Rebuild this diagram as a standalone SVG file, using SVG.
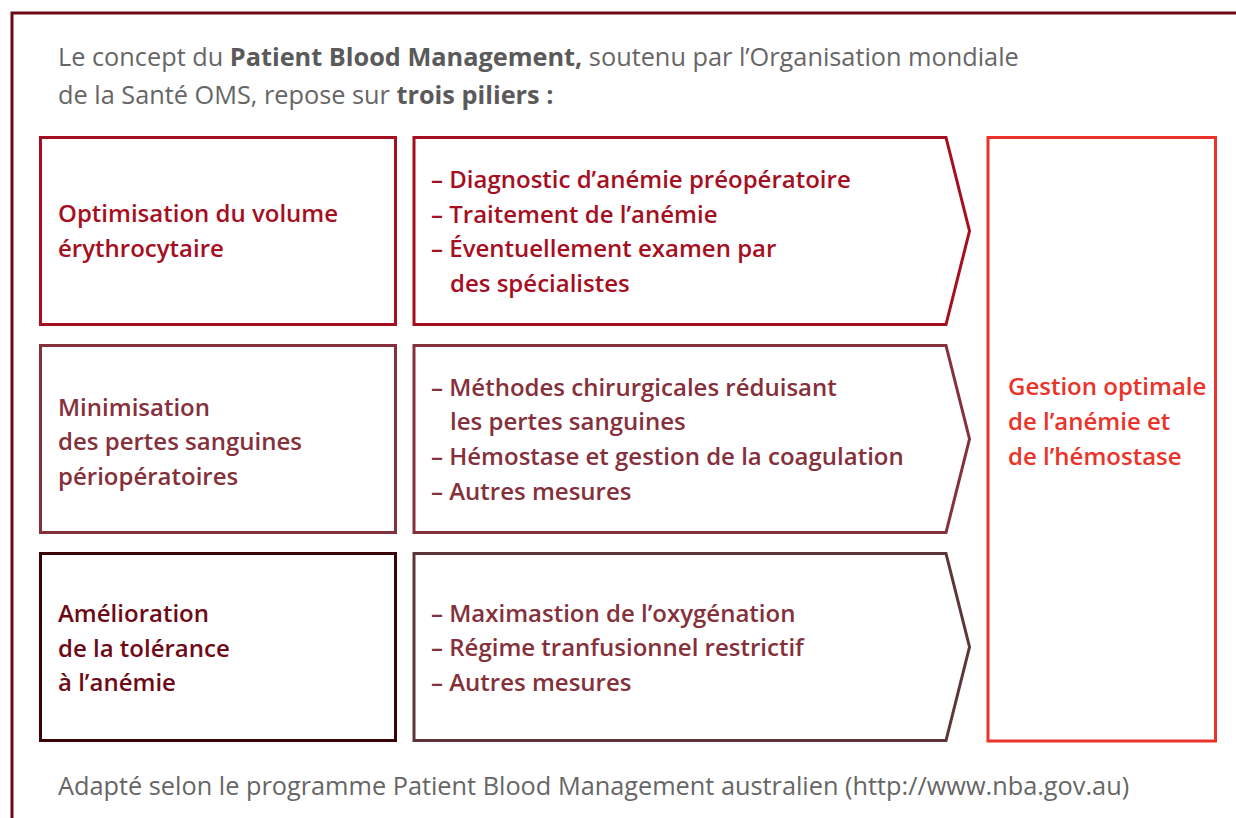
<svg xmlns="http://www.w3.org/2000/svg" width="1236" height="818" viewBox="0 0 1236 818">
<style>
text{font-family:"Open Sans","Noto Sans","DejaVu Sans",sans-serif;font-size:24px}
.hd{fill:#666666;font-weight:400;font-size:25.3px}
.b{font-weight:700;fill:#5a5a5a}
.lb{font-weight:600}
.box{fill:#ffffff;stroke-width:3}
.r1{stroke:#a50f1f}
.t1{fill:#a50f1f}
.r2{stroke:#85313b}
.t2{fill:#85313b}
.r3l{stroke:#3a0308}
.t3l{fill:#6e0a16}
.r3a{stroke:#5e3538}
.t3a{fill:#85313b}
.rr{stroke:#ea3329}
.tr{fill:#ea3329}
</style>
<rect x="0" y="0" width="1236" height="818" fill="#ffffff"/>
<path d="M12,818 V13 H1236" fill="none" stroke="#6b0a12" stroke-width="3"/>
<g id="header">
<text class="hd" x="58" y="66">Le concept du <tspan class="b">Patient Blood Management,</tspan> soutenu par l’Organisation mondiale</text>
<text class="hd" x="58" y="104">de la Santé OMS, repose sur <tspan class="b">trois piliers :</tspan></text>
</g>
<g id="connectors"></g>
<g id="pillar1">
<rect class="box r1" x="40.5" y="137.5" width="355" height="187"/>
<text class="lb t1" x="58" y="222">Optimisation du volume</text>
<text class="lb t1" x="58" y="257">érythrocytaire</text>
</g>
<g id="measures1">
<polygon class="box r1" points="414,137.5 946,137.5 969.5,231 946,324.5 414,324.5"/>
<text class="lb t1" x="431" y="188">– Diagnostic d’anémie préopératoire</text>
<text class="lb t1" x="431" y="222.5">– Traitement de l’anémie</text>
<text class="lb t1" x="431" y="257">– Éventuellement examen par</text>
<text class="lb t1" x="450" y="291.5">des spécialistes</text>
</g>
<g id="pillar2">
<rect class="box r2" x="40.5" y="345.5" width="355" height="187"/>
<text class="lb t2" x="58" y="415.5">Minimisation</text>
<text class="lb t2" x="58" y="450">des pertes sanguines</text>
<text class="lb t2" x="58" y="484.5">périopératoires</text>
</g>
<g id="measures2">
<polygon class="box r2" points="414,345.5 946,345.5 969.5,439 946,532.5 414,532.5"/>
<text class="lb t2" x="431" y="395.5">– Méthodes chirurgicales réduisant</text>
<text class="lb t2" x="450" y="430">les pertes sanguines</text>
<text class="lb t2" x="431" y="465">– Hémostase et gestion de la coagulation</text>
<text class="lb t2" x="431" y="499.5">– Autres mesures</text>
</g>
<g id="pillar3">
<rect class="box r3l" x="40.5" y="553.5" width="355" height="187"/>
<text class="lb t3l" x="58" y="622">Amélioration</text>
<text class="lb t3l" x="58" y="656.5">de la tolérance</text>
<text class="lb t3l" x="58" y="691">à l’anémie</text>
</g>
<g id="measures3">
<polygon class="box r3a" points="414,553.5 946,553.5 969.5,647 946,740.5 414,740.5"/>
<text class="lb t3a" x="431" y="622">– Maximastion de l’oxygénation</text>
<text class="lb t3a" x="431" y="656">– Régime tranfusionnel restrictif</text>
<text class="lb t3a" x="431" y="690.5">– Autres mesures</text>
</g>
<g id="outcome">
<rect class="box rr" x="988" y="137.5" width="227.5" height="603.5"/>
<text class="lb tr" x="1008" y="395">Gestion optimale</text>
<text class="lb tr" x="1008" y="430">de l’anémie et</text>
<text class="lb tr" x="1008" y="464.5">de l’hémostase</text>
</g>
<g id="footer">
<text class="hd" x="58" y="795">Adapté selon le programme Patient Blood Management australien (http://www.nba.gov.au)</text>
</g>
</svg>
